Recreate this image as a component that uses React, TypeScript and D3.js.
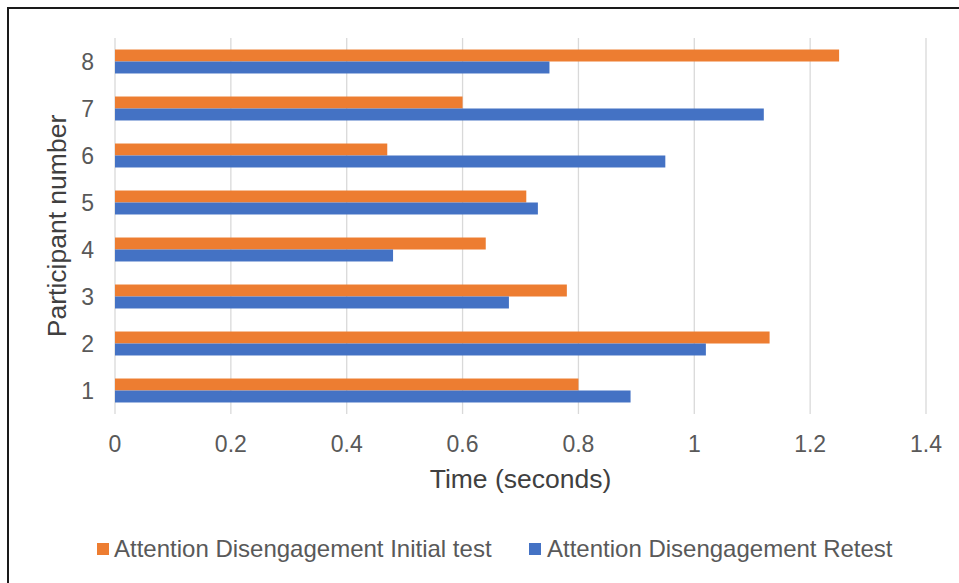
import * as d3 from "d3";

const PARTICIPANTS = ["1", "2", "3", "4", "5", "6", "7", "8"];
const INITIAL_TEST = [0.8, 1.13, 0.78, 0.64, 0.71, 0.47, 0.6, 1.25];
const RETEST = [0.89, 1.02, 0.68, 0.48, 0.73, 0.95, 1.12, 0.75];
const X_TICKS = [0, 0.2, 0.4, 0.6, 0.8, 1, 1.2, 1.4];

const SERIES = [
  { key: "initial", name: "Attention Disengagement Initial test", color: "#ED7D31", values: INITIAL_TEST },
  { key: "retest", name: "Attention Disengagement Retest", color: "#4472C4", values: RETEST },
];

const W = 959;
const H = 583;
const FONT = "'Liberation Sans', Arial, sans-serif";

export default function App() {
  const m = { left: 115, right: 959 - 926, top: 38, bottom: 583 - 414 };

  const x = d3.scaleLinear().domain([0, 1.4]).range([m.left, W - m.right]);
  const y = d3
    .scaleBand()
    .domain([...PARTICIPANTS].reverse())
    .range([m.top, H - m.bottom])
    .paddingInner(0.49)
    .paddingOuter(0.245);
  const sub = d3
    .scaleBand()
    .domain(SERIES.map((s) => s.key))
    .range([0, y.bandwidth()]);

  const legendItems = [
    { sx: 97, tx: 114, s: SERIES[0] },
    { sx: 529, tx: 547, s: SERIES[1] },
  ];

  return (
    <svg
      width={W}
      height={H}
      style={{ position: "absolute", left: 0, top: 0, background: "#fff" }}
      fontFamily={FONT}
    >
      <rect x={8} y={8} width={W + 20} height={H + 20} fill="#fff" stroke="#1a1a1a" strokeWidth={2} />

      {/* vertical gridlines */}
      {X_TICKS.map((t) => (
        <line
          key={t}
          x1={x(t)}
          x2={x(t)}
          y1={m.top}
          y2={H - m.bottom}
          stroke="#d9d9d9"
          strokeWidth={1.3}
        />
      ))}

      {/* bars */}
      {PARTICIPANTS.map((p, i) => (
        <g key={p} transform={`translate(0,${y(p)})`}>
          {SERIES.map((s) => (
            <rect
              key={s.key}
              x={x(0)}
              y={sub(s.key)}
              width={x(s.values[i]) - x(0)}
              height={sub.bandwidth()}
              fill={s.color}
            />
          ))}
        </g>
      ))}

      {/* y tick labels */}
      {PARTICIPANTS.map((p) => (
        <text
          key={p}
          x={94}
          y={(y(p) ?? 0) + y.bandwidth() / 2}
          dy="0.36em"
          textAnchor="end"
          fontSize={23}
          fill="#595959"
        >
          {p}
        </text>
      ))}

      {/* x tick labels */}
      {X_TICKS.map((t) => (
        <text key={t} x={x(t)} y={452} textAnchor="middle" fontSize={23} fill="#595959">
          {d3.format("~g")(t)}
        </text>
      ))}

      {/* axis titles */}
      <text x={(x(0) + x(1.4)) / 2} y={488} textAnchor="middle" fontSize={26.5} fill="#404040">
        Time (seconds)
      </text>
      <text
        transform={`translate(66,${(m.top + H - m.bottom) / 2}) rotate(-90)`}
        textAnchor="middle"
        fontSize={26.5}
        fill="#404040"
      >
        Participant number
      </text>

      {/* legend */}
      {legendItems.map(({ sx, tx, s }) => (
        <g key={s.key}>
          <rect x={sx} y={543} width={12} height={12} fill={s.color} />
          <text x={tx} y={557} fontSize={24} fill="#595959">
            {s.name}
          </text>
        </g>
      ))}
    </svg>
  );
}
